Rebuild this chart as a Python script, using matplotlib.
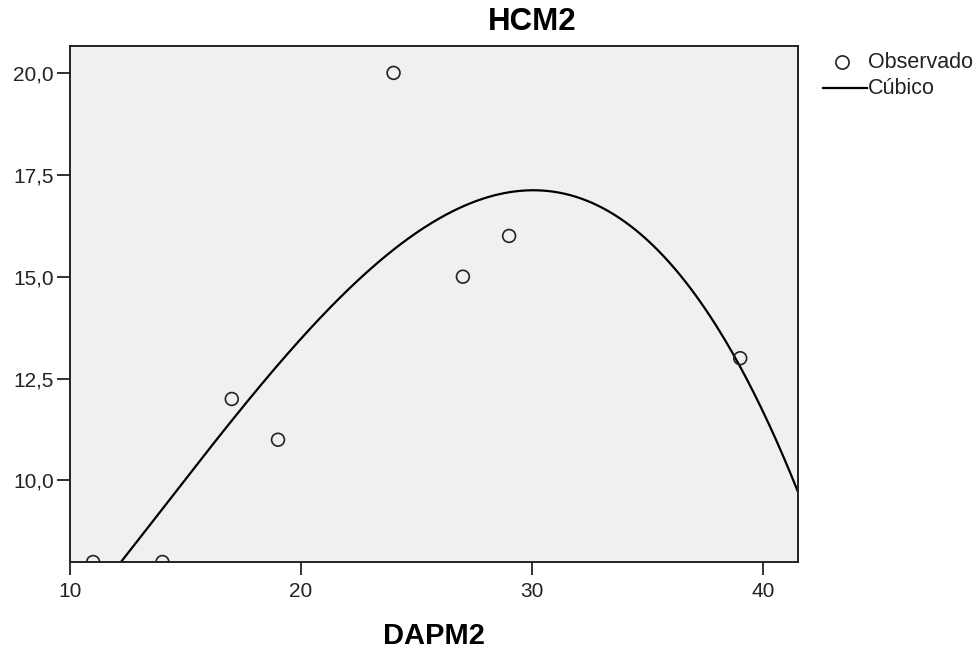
import numpy as np
import matplotlib
matplotlib.use('Agg')
import matplotlib.pyplot as plt
from matplotlib.ticker import FuncFormatter

plt.rcParams['font.family'] = ['Liberation Sans', 'DejaVu Sans']

# observed data
dapm2 = [11, 14, 17, 19, 24, 27, 29, 39]
hcm2 = [8, 8, 12, 11, 20, 15, 16, 13]
x_ticks = [10, 20, 30, 40]
y_ticks = [10.0, 12.5, 15.0, 17.5, 20.0]

# cubic fit
coef = np.polyfit(dapm2, hcm2, 3)
xs = np.linspace(10, 41.5, 400)
ys = np.polyval(coef, xs)

W, H = 979, 650
fig = plt.figure(figsize=(W / 100, H / 100), dpi=100)
ax = fig.add_axes([70 / W, 88 / H, 728 / W, 516 / H])
ax.set_facecolor('#f0f0f0')

ax.plot(xs, ys, color='black', lw=1.6)
ax.scatter(dapm2, hcm2, s=85, facecolors='none', edgecolors='#222222', linewidths=1.2, zorder=3)

ax.set_xlim(10, 41.5)
ax.set_ylim(8.0, 20.66)
ax.set_xticks(x_ticks)
ax.set_yticks(y_ticks)
ax.yaxis.set_major_formatter(FuncFormatter(lambda v, p: f'{v:.1f}'.replace('.', ',')))
ax.tick_params(direction='out', length=9.5, width=1.3, labelsize=15, colors='#222222')
ax.tick_params(axis='x', pad=5)
ax.tick_params(axis='y', pad=2)
for s in ax.spines.values():
    s.set_linewidth(1.4)
    s.set_color('#222222')

fig.text(434 / W, 1 - 636 / H, 'DAPM2', fontsize=21, fontweight='bold', ha='center', va='center')
fig.text(532 / W, 1 - 22 / H, 'HCM2', fontsize=22.5, fontweight='bold', ha='center', va='center')

# legend drawn by hand at the right, outside the axes
fig.add_artist(plt.Line2D([842 / W], [1 - 62 / H], marker='o', ls='none', mfc='none',
                          mec='#222222', ms=9.5, mew=1.2))
fig.add_artist(plt.Line2D([823 / W, 867 / W], [1 - 88 / H, 1 - 88 / H], color='black', lw=1.6))
fig.text(868 / W, 1 - 62 / H, 'Observado', fontsize=15.5, ha='left', va='center', color='#222222')
fig.text(868 / W, 1 - 88 / H, 'Cúbico', fontsize=15.5, ha='left', va='center', color='#222222')

plt.savefig('out.png', dpi=100)
